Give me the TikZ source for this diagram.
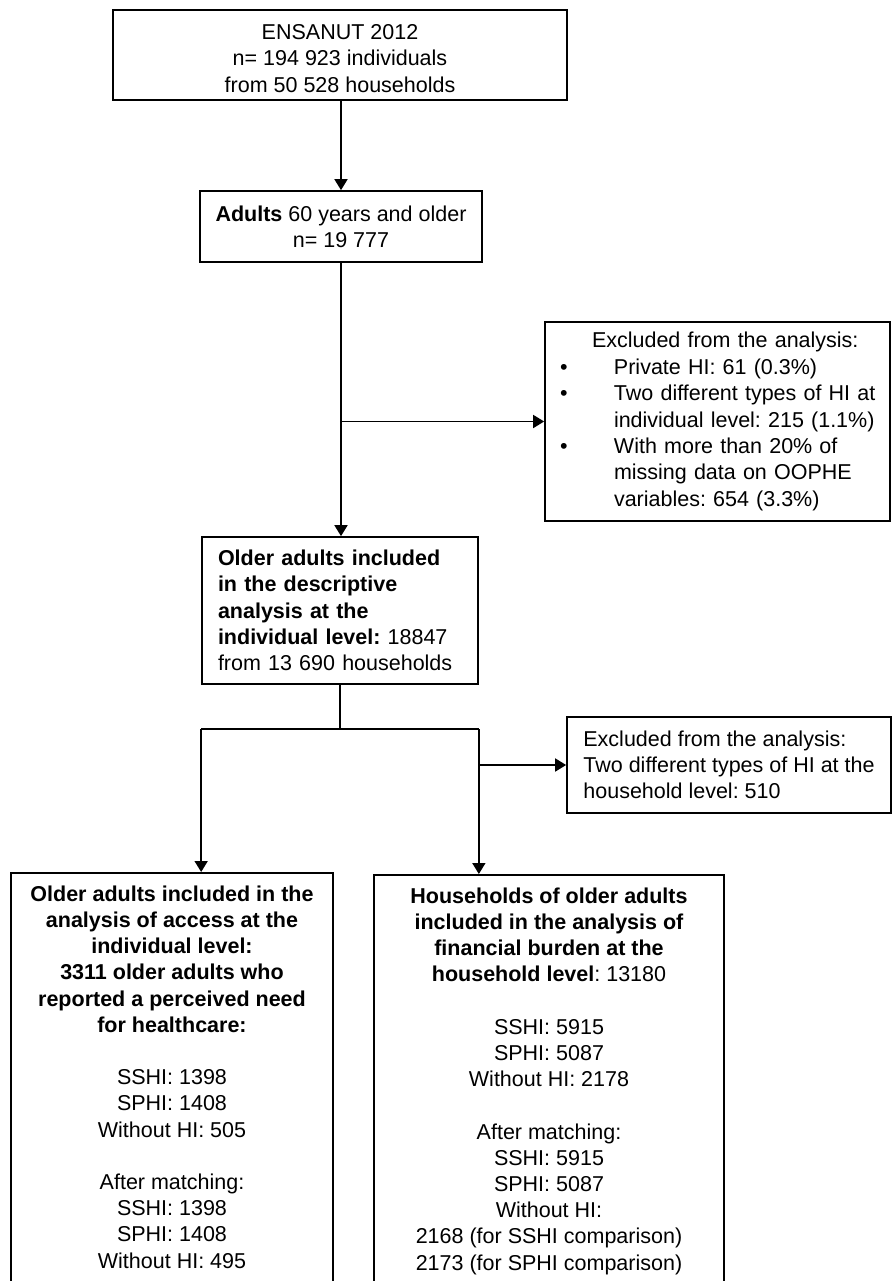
\documentclass[tikz,border=0pt]{standalone}
\usepackage{fontspec}
\setmainfont{Liberation Sans}
\usetikzlibrary{arrows.meta}
\newcommand\myfs{\fontsize{21.5}{26.2}\selectfont\frenchspacing}
\newcommand\mybul{\makebox[64pt][l]{\hspace{10pt}\textbullet}}
\begin{document}
\begin{tikzpicture}[x=1pt,y=-1pt,
  box/.style={draw, line width=1.7pt, inner sep=0pt, font=\myfs},
  txt/.style={inner sep=0pt, font=\myfs, align=center},
  arr/.style={line width=1.7pt, -{Triangle[length=11pt,width=13pt]}},
  ln/.style={line width=1.7pt}]
\useasboundingbox (0,0) rectangle (893,1281);
\clip (0,0) rectangle (893,1281);
\fill[white] (0,0) rectangle (893,1281);

\node[box, align=center, minimum width=454pt, minimum height=90pt] (ens) at (340,55)
  {\rule{0pt}{22pt}ENSANUT 2012\\n= 194 923 individuals\\from 50 528 households};
\node[box, align=center, minimum width=282pt, minimum height=71pt] (adults) at (341,226.5)
  {\textbf{Adults} 60 years and older\\n= 19 777};
\node[box, align=left, text width=335pt, minimum width=345pt, minimum height=199pt,
      font=\fontsize{21.5}{26.4}\selectfont\frenchspacing] (ex1) at (717.5,421.5)
  {\hspace*{42pt}Excluded from the analysis:\\
   \mybul Private HI: 61 (0.3\%)\\
   \mybul Two different types of HI at\\
   \hspace*{64pt}individual level: 215 (1.1\%)\\
   \mybul With more than 20\% of\\
   \hspace*{64pt}missing data on OOPHE\\
   \hspace*{64pt}variables: 654 (3.3\%)};
\node[box, align=left, text width=244pt, minimum width=276pt, minimum height=147pt] (desc) at (340,610.5)
  {\textbf{Older adults included}\\
   \textbf{in the descriptive}\\
   \textbf{analysis at the}\\
   \textbf{individual level:} 18847\\
   from 13 690 households};
\node[box, align=left, minimum width=324pt, minimum height=96pt] (ex2) at (729,765)
  {Excluded from the analysis:\\
   Two different types of HI at the\\
   household level: 510};

\node[box, anchor=north, minimum width=322pt, minimum height=440pt] (acc) at (172,872) {};
\node[txt, anchor=north] (acctext) at ([yshift=-13.5pt]acc.north)
  {\textbf{Older adults included in the}\\
   \textbf{analysis of access at the}\\
   \textbf{individual level:}\\
   \textbf{3311 older adults who}\\
   \textbf{reported a perceived need}\\
   \textbf{for healthcare:}\\[26.2pt]
   SSHI: 1398\\
   SPHI: 1408\\
   Without HI: 505\\[26.2pt]
   After matching:\\
   SSHI: 1398\\
   SPHI: 1408\\
   Without HI: 495};
\node[box, anchor=north, minimum width=350pt, minimum height=440pt] (hh) at (549,874) {};
\node[txt, anchor=north] (hhtext) at ([yshift=-13.5pt]hh.north)
  {\textbf{Households of older adults}\\
   \textbf{included in the analysis of}\\
   \textbf{financial burden at the}\\
   \textbf{household level}: 13180\\[26.2pt]
   SSHI: 5915\\
   SPHI: 5087\\
   Without HI: 2178\\[26.2pt]
   After matching:\\
   SSHI: 5915\\
   SPHI: 5087\\
   Without HI:\\
   2168 (for SSHI comparison)\\
   2173 (for SPHI comparison)};

\draw[arr] (adults.north |- ens.south) -- (adults.north);
\draw[arr] (adults.south) -- (adults.south |- desc.north);
\coordinate (b1) at (adults.south |- ex1.west);
\draw[arr] (b1) -- (ex1.west);
\coordinate (j) at (340,729);
\draw[ln] (desc.south) -- (j);
\draw[ln] (desc.west |- j) -- (desc.east |- j);
\draw[arr] (desc.west |- j) -- (desc.west |- acc.north);
\draw[arr] (desc.east |- j) -- (desc.east |- hh.north);
\coordinate (b2) at (desc.east |- ex2.west);
\draw[arr] (b2) -- (ex2.west);
\end{tikzpicture}
\end{document}
